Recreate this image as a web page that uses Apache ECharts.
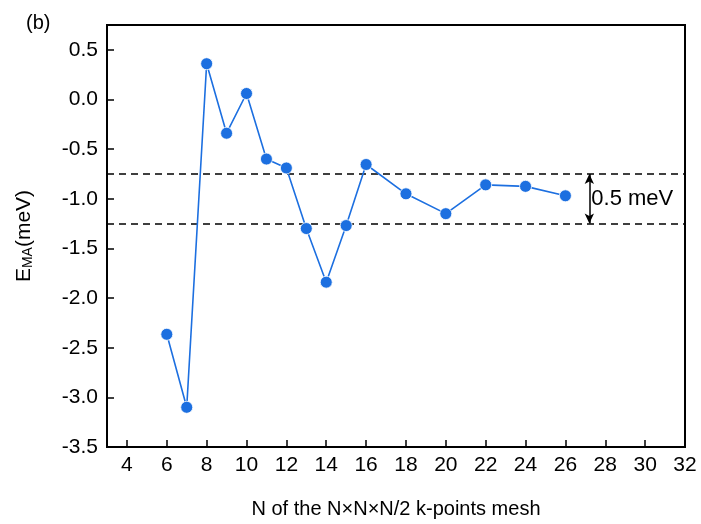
<!DOCTYPE html>
<html>
<head>
<meta charset="utf-8">
<script src="https://cdn.jsdelivr.net/npm/echarts@6/dist/echarts.min.js"></script>
<style>
html,body{margin:0;padding:0;background:#fff;}
#chart{width:701px;height:524px;}
</style>
</head>
<body>
<div id="chart"></div>
<script>
// ---- data ----
const meshN = [6, 7, 8, 9, 10, 11, 12, 13, 14, 15, 16, 18, 20, 22, 24, 26];
const emaValues = [-2.365, -3.10, 0.36, -0.34, 0.06, -0.60, -0.69, -1.30, -1.84, -1.27, -0.655, -0.95, -1.15, -0.86, -0.875, -0.97];
const xTickValues = [4, 6, 8, 10, 12, 14, 16, 18, 20, 22, 24, 26, 28, 30, 32];
const yTickValues = [-3.5, -3.0, -2.5, -2.0, -1.5, -1.0, -0.5, 0.0, 0.5];
const bandLines = [-0.75, -1.25];
const bandArrowX = 27.2;
const bandLabel = '0.5 meV';
const bandLabelPos = [27.3, -1.0];
const panelLabel = '(b)';
const xAxisTitle = 'N of the N\u00d7N\u00d7N/2 k-points mesh';

const FONT = 'Liberation Sans, Arial, Helvetica, sans-serif';
const blue = '#1c6fe0';

const chart = echarts.init(document.getElementById('chart'), null, {renderer: 'canvas'});
const option = {
  backgroundColor: '#fff',
  animation: false,
  textStyle: {fontFamily: FONT},
  title: {
    text: panelLabel, left: 21, top: 8,
    textStyle: {fontSize: 20, fontWeight: 'normal', color: '#000', fontFamily: FONT}
  },
  grid: {
    left: 107, right: 16, top: 25, bottom: 77,
    show: true, borderColor: '#000', borderWidth: 2, backgroundColor: 'transparent'
  },
  xAxis: {
    type: 'value', min: 3, max: 32,
    name: xAxisTitle, nameLocation: 'middle', nameGap: 52,
    nameTextStyle: {fontSize: 20, color: '#000', fontFamily: FONT},
    axisLine: {show: true, onZero: false, lineStyle: {color: '#000', width: 2}},
    axisTick: {show: true, inside: true, length: 7, lineStyle: {color: '#000', width: 1.5}, customValues: xTickValues},
    axisLabel: {fontSize: 21, color: '#000', margin: 8, fontFamily: FONT, customValues: xTickValues,
      formatter: v => String(v)},
    splitLine: {show: false}
  },
  yAxis: {
    type: 'value', min: -3.5, max: 0.75,
    name: 'E{sub|MA}(meV)', nameLocation: 'middle', nameGap: 72, nameRotate: 90,
    nameTextStyle: {fontSize: 21, color: '#000', fontFamily: FONT,
      rich: {sub: {fontSize: 14, color: '#000', fontFamily: FONT, verticalAlign: 'bottom', padding: [8, 0, 0, 0]}}},
    axisLine: {show: true, onZero: false, lineStyle: {color: '#000', width: 2}},
    axisTick: {show: true, inside: true, length: 7, lineStyle: {color: '#000', width: 1.5}, customValues: yTickValues},
    axisLabel: {fontSize: 21, color: '#000', margin: 9, fontFamily: FONT, customValues: yTickValues,
      formatter: v => v.toFixed(1)},
    splitLine: {show: false}
  },
  series: [
    {
      type: 'line',
      data: meshN.map((n, i) => [n, emaValues[i]]),
      symbol: 'circle', symbolSize: 12,
      lineStyle: {color: blue, width: 1.6},
      itemStyle: {color: blue, borderColor: '#fff', borderWidth: 0.8},
      z: 5,
      markLine: {
        silent: true, symbol: 'none', animation: false,
        lineStyle: {color: '#000', width: 1.5, type: [7, 5]},
        label: {show: false},
        data: [
          ...bandLines.map(v => ({yAxis: v})),
          [
            {coord: [bandArrowX, bandLines[0]], symbol: 'arrow', symbolSize: [7, 10],
              lineStyle: {type: 'solid', width: 1.5, color: '#000'}},
            {coord: [bandArrowX, bandLines[1]], symbol: 'arrow', symbolSize: [7, 10]}
          ]
        ]
      }
    },
    {
      type: 'scatter',
      data: [bandLabelPos],
      symbolSize: 0,
      silent: true,
      itemStyle: {color: '#000', opacity: 1},
      label: {show: true, position: 'right', distance: 0, formatter: bandLabel,
        fontSize: 22, color: '#000', opacity: 1, textBorderWidth: 0, fontFamily: FONT}
    }
  ]
};
chart.setOption(option);
</script>
</body>
</html>
